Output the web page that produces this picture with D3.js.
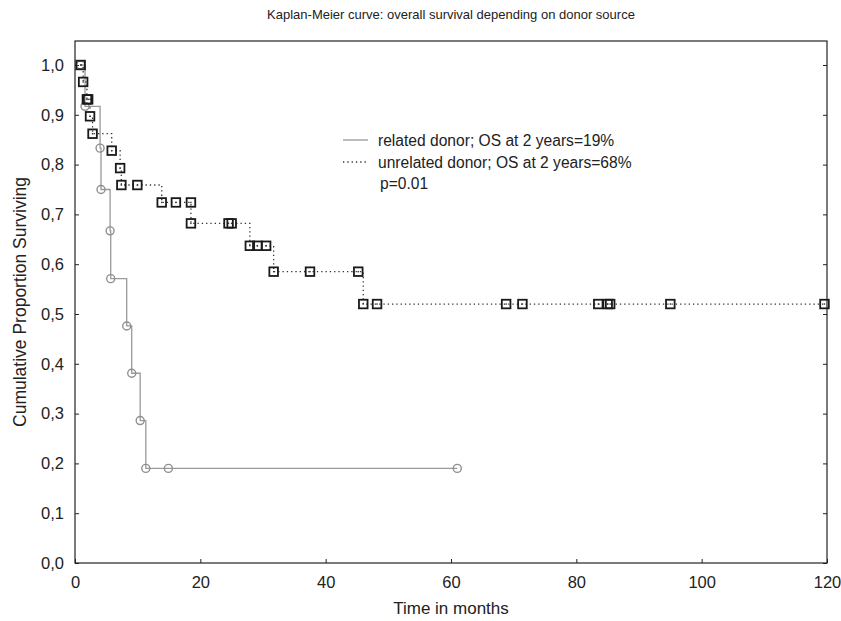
<!DOCTYPE html>
<html>
<head>
<meta charset="utf-8">
<script src="https://cdn.jsdelivr.net/npm/d3@7/dist/d3.min.js"></script>
<style>
  html, body { margin: 0; padding: 0; background: #fff; }
  text { font-family: "Liberation Sans", Arial, sans-serif; fill: #222; }
</style>
</head>
<body>
<svg id="chart" width="841" height="621"></svg>
<script>
// ---- data ----
const titleText = "Kaplan-Meier curve: overall survival depending on donor source";
const xLabel = "Time in months";
const yLabel = "Cumulative Proportion Surviving";
const xTicks = [0, 20, 40, 60, 80, 100, 120];
const yTicks = [0, 0.1, 0.2, 0.3, 0.4, 0.5, 0.6, 0.7, 0.8, 0.9, 1.0];

const relatedTime = [0.9, 1.6, 4.0, 4.15, 5.6, 5.7, 8.25, 9.05, 10.4, 11.3, 14.9, 61.0];
const relatedSurv = [1.0, 0.917, 0.833, 0.750, 0.667, 0.571, 0.476, 0.381, 0.286, 0.190, 0.190, 0.190];

const unrelatedTime = [0.9, 1.3, 1.9, 2.1, 2.4, 2.8, 5.86, 7.2, 7.4, 9.95, 13.84, 16.1, 18.5, 18.5,
  24.5, 25.0, 27.9, 29.1, 30.5, 31.7, 37.5, 45.2, 46.0, 48.2, 68.8, 71.4, 83.5, 85.0, 85.4, 95.0, 119.6];
const unrelatedSurv = [1.0, 0.966, 0.931, 0.931, 0.897, 0.862, 0.828, 0.793, 0.759, 0.759, 0.724, 0.724, 0.724, 0.682,
  0.682, 0.682, 0.637, 0.637, 0.637, 0.585, 0.585, 0.585, 0.520, 0.520, 0.520, 0.520, 0.520, 0.520, 0.520, 0.520, 0.520];

const legendLabels = ["related donor; OS at 2 years=19%", "unrelated donor; OS at 2 years=68%"];
const pText = "p=0.01";

// ---- layout ----
const svg = d3.select("#chart");
const L = 75, R = 827, T = 41, B = 563;
const x = d3.scaleLinear().domain([0, 120]).range([L, R]);
const y = d3.scaleLinear().domain([0, 1]).range([B, T + 24]);

const related = relatedTime.map((t, i) => ({ t, s: relatedSurv[i] }));
const unrelated = unrelatedTime.map((t, i) => ({ t, s: unrelatedSurv[i] }));

// axes (inward ticks)
const fmtY = v => d3.format(".1f")(v).replace(".", ",");
const axB = svg.append("g").attr("transform", `translate(0,${B})`)
  .call(d3.axisBottom(x).tickValues(xTicks).tickSizeInner(-4).tickSizeOuter(0).tickPadding(13));
const axL = svg.append("g").attr("transform", `translate(${L},0)`)
  .call(d3.axisLeft(y).tickValues(yTicks).tickFormat(fmtY).tickSizeInner(-4).tickSizeOuter(0).tickPadding(11));
const axR = svg.append("g").attr("transform", `translate(${R},0)`)
  .call(d3.axisRight(y).tickValues(yTicks).tickSizeInner(-4).tickSizeOuter(0).tickFormat(""));
[axB, axL, axR].forEach(a => {
  a.select(".domain").remove();
  a.selectAll("line").attr("stroke", "#222");
  a.selectAll("text").attr("font-family", "Liberation Sans, Arial, sans-serif")
    .attr("font-size", 16.5).attr("fill", "#222");
});

// frame
svg.append("rect").attr("x", L).attr("y", T).attr("width", R - L).attr("height", B - T)
  .attr("fill", "none").attr("stroke", "#222").attr("stroke-width", 1.2);

// lines
const line = d3.line().x(d => x(d.t)).y(d => y(d.s)).curve(d3.curveStepAfter);
svg.append("path").datum(related).attr("d", line)
  .attr("fill", "none").attr("stroke", "#9a9a9a").attr("stroke-width", 1.3);
svg.append("g").selectAll("circle").data(related).join("circle")
  .attr("cx", d => x(d.t)).attr("cy", d => y(d.s)).attr("r", 4)
  .attr("fill", "none").attr("stroke", "#8f8f8f").attr("stroke-width", 1.4);

svg.append("path").datum(unrelated).attr("d", line)
  .attr("fill", "none").attr("stroke", "#333").attr("stroke-width", 1.3)
  .attr("stroke-dasharray", "1.3,3");
svg.append("g").selectAll("rect").data(unrelated).join("rect")
  .attr("x", d => x(d.t) - 4.3).attr("y", d => y(d.s) - 4.3).attr("width", 8.6).attr("height", 8.6)
  .attr("fill", "none").attr("stroke", "#1a1a1a").attr("stroke-width", 1.8);
svg.append("g").selectAll("rect").data(unrelated).join("rect")
  .attr("x", d => x(d.t) - 0.7).attr("y", d => y(d.s) - 0.7).attr("width", 1.4).attr("height", 1.4)
  .attr("fill", "#333");

// legend
const lg = svg.append("g");
const legendY = [140, 162];
lg.append("line").attr("x1", 343).attr("x2", 368).attr("y1", legendY[0]).attr("y2", legendY[0])
  .attr("stroke", "#9a9a9a").attr("stroke-width", 1.3);
lg.append("line").attr("x1", 343).attr("x2", 368).attr("y1", legendY[1]).attr("y2", legendY[1])
  .attr("stroke", "#333").attr("stroke-width", 1.3).attr("stroke-dasharray", "1.3,3");
legendLabels.forEach((lab, i) => {
  lg.append("text").attr("x", 378).attr("y", legendY[i]).attr("dy", "0.36em")
    .attr("font-size", 15.6).text(lab);
});
lg.append("text").attr("x", 380).attr("y", 183).attr("dy", "0.36em").attr("font-size", 15.6).text(pText);

// titles
svg.append("text").attr("x", (L + R) / 2).attr("y", 19).attr("text-anchor", "middle")
  .attr("font-size", 13).text(titleText);
svg.append("text").attr("x", (L + R) / 2).attr("y", 614).attr("text-anchor", "middle")
  .attr("font-size", 17).text(xLabel);
svg.append("text").attr("transform", `translate(26,${(T + B) / 2}) rotate(-90)`)
  .attr("text-anchor", "middle").attr("font-size", 17.5).text(yLabel);
</script>
</body>
</html>
